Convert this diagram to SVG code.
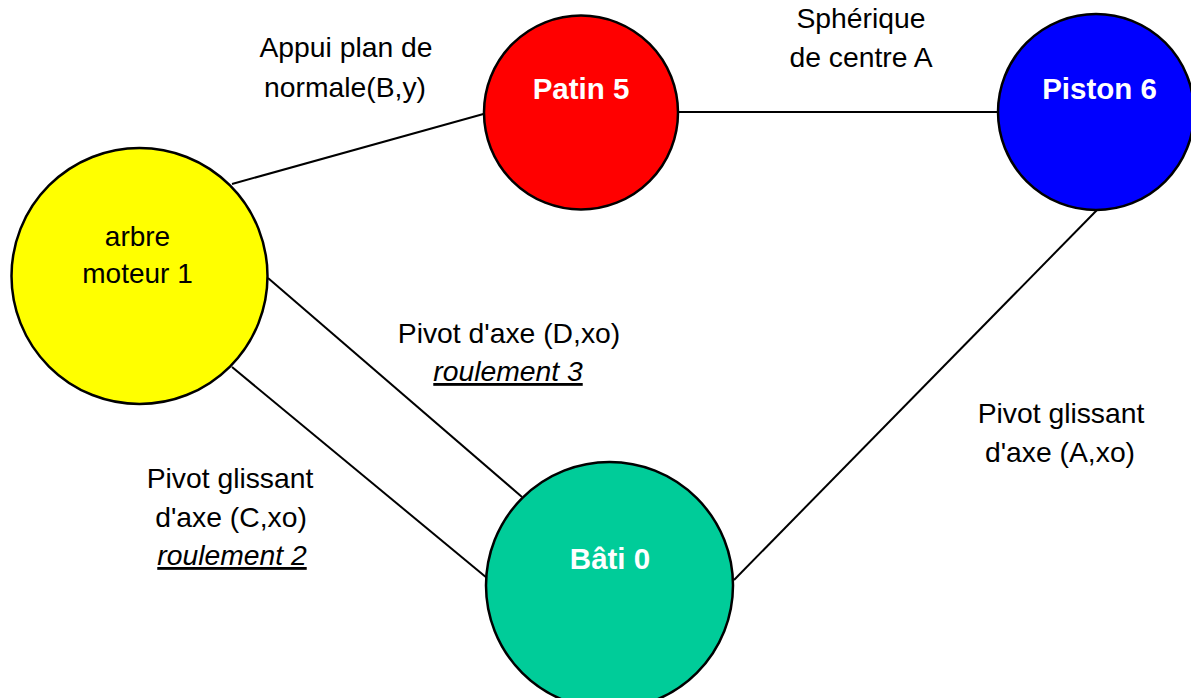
<svg xmlns="http://www.w3.org/2000/svg" width="1191" height="698" viewBox="0 0 1191 698">
<style>
.edge{stroke:#000;stroke-width:2;fill:none}
.node{stroke:#000;stroke-width:2.5}
.lbl{font-family:"Liberation Sans",Arial,sans-serif;font-size:28.3px;fill:#000;text-anchor:middle}
.nl{font-family:"Liberation Sans",Arial,sans-serif;font-size:29.5px;font-weight:bold;fill:#fff;text-anchor:middle}
.nd{font-family:"Liberation Sans",Arial,sans-serif;font-size:28px;fill:#000;text-anchor:middle}
.it{font-style:italic;text-decoration:underline}
</style>
<rect width="1191" height="698" fill="#fff"/>
<g id="connectors">
<line class="edge" x1="232" y1="184" x2="487" y2="113"/>
<line class="edge" x1="676" y1="112" x2="997" y2="112"/>
<line class="edge" x1="268" y1="278" x2="522" y2="497"/>
<line class="edge" x1="232" y1="367" x2="487" y2="578"/>
<line class="edge" x1="1097" y1="210" x2="734" y2="580"/>
</g>
<g id="edge-labels">
<text class="lbl" x="346" y="57">Appui plan de</text>
<text class="lbl" x="345" y="97">normale(B,y)</text>
<text class="lbl" x="861" y="28">Sphérique</text>
<text class="lbl" x="861" y="67">de centre A</text>
<text class="lbl" x="1061" y="423">Pivot glissant</text>
<text class="lbl" x="1060" y="462">d'axe (A,xo)</text>
<text class="lbl" x="509" y="343">Pivot d'axe (D,xo)</text>
<text class="lbl it" x="508" y="381">roulement 3</text>
<text class="lbl" x="230" y="488">Pivot glissant</text>
<text class="lbl" x="231" y="527">d'axe (C,xo)</text>
<text class="lbl it" x="232" y="565">roulement 2</text>
</g>
<g id="node-arbre">
<circle class="node" cx="139.5" cy="276" r="128" fill="#ffff00"/>
<text class="nd" x="137.5" y="246">arbre</text>
<text class="nd" x="137.5" y="283">moteur 1</text>
</g>
<g id="node-patin">
<circle class="node" cx="581" cy="112.5" r="97" fill="#ff0000"/>
<text class="nl" x="581" y="99">Patin 5</text>
</g>
<g id="node-piston">
<circle class="node" cx="1096" cy="112" r="98" fill="#0000ff"/>
<text class="nl" x="1099.5" y="99">Piston 6</text>
</g>
<g id="node-bati">
<circle class="node" cx="609.5" cy="585.5" r="123.5" fill="#00cc99"/>
<text class="nl" x="610" y="569">Bâti 0</text>
</g>
</svg>
